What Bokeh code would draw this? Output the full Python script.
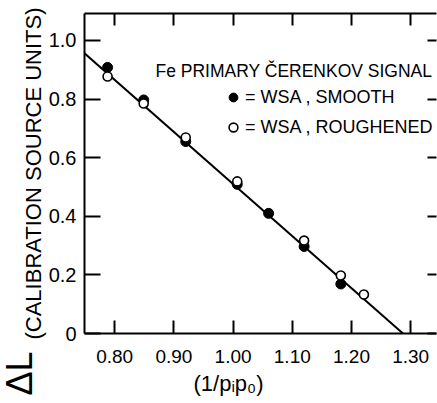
import math
from bokeh.plotting import figure
from bokeh.models import (Range1d, LinearAxis, FixedTicker, Label, Legend, LegendItem,
                          CustomJSTickFormatter, Title)
from bokeh.embed import file_html
from bokeh.resources import INLINE

# ---- data ----
x_smooth = [0.788, 0.849, 0.920, 1.007, 1.060, 1.120, 1.182]
y_smooth = [0.908, 0.797, 0.655, 0.509, 0.410, 0.297, 0.169]
x_rough = [0.788, 0.849, 0.920, 1.007, 1.120, 1.182, 1.221]
y_rough = [0.877, 0.785, 0.669, 0.519, 0.317, 0.198, 0.133]
fit_x = [0.74, 1.287]
fit_y = [0.972, 0.0]

x_ticks = [0.80, 0.90, 1.00, 1.10, 1.20, 1.30]
x_tick_labels = ["0.80", "0.90", "1.00", "1.10", "1.20", "1.30"]
y_ticks = [0.0, 0.2, 0.4, 0.6, 0.8, 1.0]
y_tick_labels = ["0", "0.2", "0.4", "0.6", "0.8", "1.0"]

FONT = "Liberation Sans"
W, H = 437, 403

p = figure(width=W, height=H, output_backend="svg", toolbar_location=None,
           x_range=Range1d(0.749, 1.3436), y_range=Range1d(0, 1.092),
           x_axis_location=None, y_axis_location=None,
           min_border_left=84, min_border_right=1, min_border_top=13, min_border_bottom=70)
p.grid.visible = False
p.outline_line_color = None
p.background_fill_color = "white"
p.border_fill_color = "white"

def style_axis(ax, tick_in, font_size, standoff, show_labels=True, line=True):
    ax.axis_line_width = 2
    ax.axis_line_color = "black" if line else None
    ax.major_tick_in = tick_in
    ax.major_tick_out = 0
    ax.major_tick_line_width = 2
    ax.minor_tick_line_color = None
    ax.major_label_text_font = FONT
    ax.major_label_text_font_size = font_size
    ax.major_label_text_color = "black"
    ax.major_label_standoff = standoff
    if not show_labels:
        ax.formatter = CustomJSTickFormatter(code="return ''")

bottom = LinearAxis(ticker=FixedTicker(ticks=x_ticks),
                    major_label_overrides={t: s for t, s in zip(x_ticks, x_tick_labels)})
style_axis(bottom, 13, "19px", 16)
p.add_layout(bottom, "below")

top = LinearAxis(ticker=FixedTicker(ticks=x_ticks))
style_axis(top, 12, "1px", 0, show_labels=False)
p.add_layout(top, "above")

left = LinearAxis(ticker=FixedTicker(ticks=y_ticks),
                  major_label_overrides={t: s for t, s in zip(y_ticks, y_tick_labels)})
style_axis(left, 16, "20px", 8)
left.axis_label = "(CALIBRATION SOURCE UNITS)"
left.axis_label_text_font = FONT
left.axis_label_text_font_size = "22px"
left.axis_label_text_font_style = "normal"
left.axis_label_text_color = "black"
left.axis_label_standoff = 0
p.add_layout(left, "left")

right = LinearAxis(ticker=FixedTicker(ticks=y_ticks))
style_axis(right, 9, "1px", 0, show_labels=False, line=False)
p.add_layout(right, "right")

# big "ΔL" part of the y title, placed below the rest of the y title
p.add_layout(Title(text="ΔL", align="left", offset=-62, standoff=-45,
                   text_font=FONT, text_font_size="36px", text_font_style="normal",
                   text_color="black"), "left")

# x title
p.add_layout(Title(text="(1/pᵢp₀)", align="left", offset=109, standoff=7,
                   text_font=FONT, text_font_size="22px", text_font_style="normal",
                   text_color="black"), "below")

# fit line and points
p.line(fit_x, fit_y, line_color="black", line_width=2)
r_s = p.scatter(x_smooth, y_smooth, marker="circle", size=10, fill_color="black", line_color="black")
r_r = p.scatter(x_rough, y_rough, marker="circle", size=9, fill_color="white",
                line_color="black", line_width=1.6)

legend = Legend(items=[LegendItem(label="= WSA , SMOOTH", renderers=[r_s]),
                       LegendItem(label="= WSA , ROUGHENED", renderers=[r_r])],
                location=(138, 195), orientation="vertical",
                background_fill_alpha=0, border_line_color=None,
                label_text_font=FONT, label_text_font_size="18px", label_text_color="black",
                glyph_width=22, glyph_height=22, label_standoff=1, spacing=8,
                label_height=22, padding=0, margin=0)
p.add_layout(legend, "center")

# in-plot heading of the key (pixels relative to the plot frame, origin bottom-left)
p.add_layout(Label(text="Fe PRIMARY ČERENKOV SIGNAL", x=71, y=263, x_units="screen", y_units="screen",
                   text_font=FONT, text_font_size="17.5px", text_baseline="middle",
                   text_color="black"))

open("out.html", "w").write(file_html(p, INLINE))
